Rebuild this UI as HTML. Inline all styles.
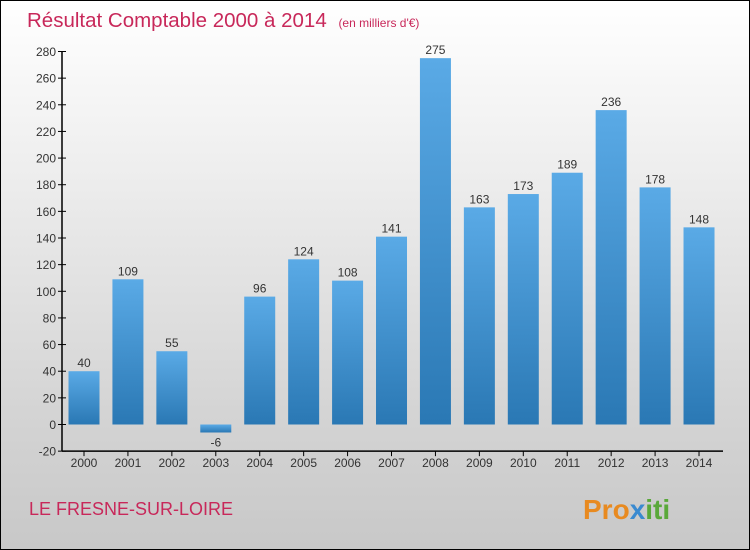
<!DOCTYPE html>
<html><head><meta charset="utf-8"><style>
body{margin:0}
#c{width:750px;height:550px;position:relative;box-sizing:border-box;border:1px solid #000;background:linear-gradient(#ffffff,#f4f4f4 20%,#d4d4d4 75%,#c8c8c8);font-family:"Liberation Sans",sans-serif;overflow:hidden}
</style></head><body>
<div id="c">
<svg width="750" height="550" style="position:absolute;left:0;top:0" id="svg">
<defs><linearGradient id="g" x1="0" y1="0" x2="0" y2="1"><stop offset="0" stop-color="#5aaae6"/><stop offset="1" stop-color="#2a78b4"/></linearGradient></defs>
<text x="26" y="26" font-size="20.5" fill="#c8285a">Résultat Comptable 2000 à 2014 <tspan font-size="12" dx="6">(en milliers d'€)</tspan></text>
<text x="28" y="514" font-size="18" fill="#c8285a">LE FRESNE-SUR-LOIRE</text>
<text x="582" y="518" font-size="28" font-weight="bold" fill="#e88a20">Pro<tspan fill="#3a8ad0">x</tspan><tspan fill="#5aa83a">iti</tspan></text>
<g id="plot"></g>
</svg>
</div>
<script>
const years=["2000","2001","2002","2003","2004","2005","2006","2007","2008","2009","2010","2011","2012","2013","2014"];
const values=[40,109,55,-6,96,124,108,141,275,163,173,189,236,178,148];
const yTicks=[-20,0,20,40,60,80,100,120,140,160,180,200,220,240,260,280];
const NS="http://www.w3.org/2000/svg";
const g=document.getElementById('plot');
const y=v=>423.5-(v)*(373/280);
const x=i=>83+i*43.93;
function el(t,a,txt){const e=document.createElementNS(NS,t);for(const k in a)e.setAttribute(k,a[k]);if(txt!=null)e.textContent=txt;g.appendChild(e);return e;}
let ax=el('line',{x1:61,y1:y(280),x2:61,y2:y(-20),stroke:'#000','stroke-width':1.5});


let bx=el('line',{x1:61,y1:y(-20),x2:722,y2:y(-20),stroke:'#000','stroke-width':1.5});


yTicks.forEach(t=>{
  el('line',{x1:57,y1:y(t),x2:65,y2:y(t),stroke:'#000'});
  const l=el('text',{x:55,y:y(t)+4.5,'font-size':12,fill:'#333','text-anchor':'end'},t);
  
  
});
years.forEach((yr,i)=>{
  el('line',{x1:x(i),y1:y(-20),x2:x(i),y2:y(-20)+5,stroke:'#000'});
  const l=el('text',{x:x(i),y:466,'font-size':12,fill:'#333','text-anchor':'middle'},yr);
  
  
  const v=values[i];
  const top=Math.min(y(v),y(0)),h=Math.abs(y(v)-y(0));
  const b=el('rect',{x:x(i)-15.5,y:top,width:31,height:h,fill:'url(#g)'});
  
  
  const vl=el('text',{x:x(i),y:v>=0?y(v)-4:y(v)+14,'font-size':12,fill:'#333','text-anchor':'middle'},v);
  
  
});
</script>
</body></html>
